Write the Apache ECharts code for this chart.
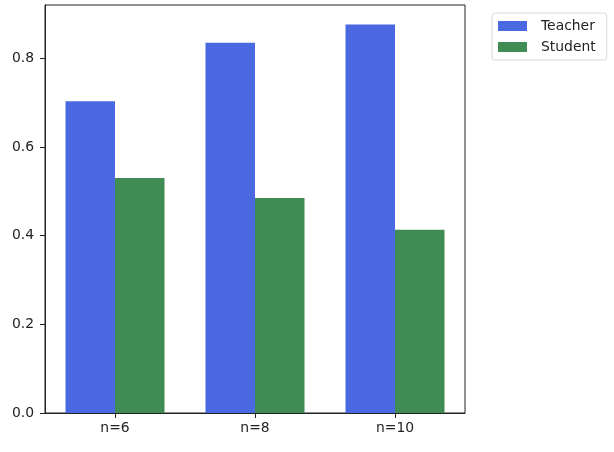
<!DOCTYPE html>
<html><head><meta charset="utf-8">
<script src="https://cdn.jsdelivr.net/npm/echarts@6/dist/echarts.min.js"></script>
<style>html,body{margin:0;padding:0;background:#fff}#c{width:614px;height:452px}</style>
</head><body><div id="c"></div>
<script>
const categories = ['n=6', 'n=8', 'n=10'];
const teacher = [0.703, 0.835, 0.876];
const student = [0.530, 0.485, 0.413];
const yTicks = [0, 0.2, 0.4, 0.6, 0.8];

const chart = echarts.init(document.getElementById('c'), null, {renderer: 'canvas'});
const font = 'DejaVu Sans';
chart.setOption({
  animation: false,
  backgroundColor: '#fff',
  grid: {left: 45, top: 5, right: 149, bottom: 39, show: true, borderColor: '#222', borderWidth: 1, backgroundColor: 'transparent'},
  legend: {
    orient: 'vertical', left: 492, top: 13,
    padding: [6, 11, 6, 6],
    itemWidth: 29, itemHeight: 10, itemGap: 7,
    borderColor: '#d8d8d8', borderWidth: 1, borderRadius: 3,
    icon: 'rect',
    textStyle: {fontFamily: font, fontSize: 13.9, color: '#222', padding: [0, 0, 0, 9]},
    data: ['Teacher', 'Student']
  },
  xAxis: {
    type: 'category', data: categories,
    axisLine: {show: true, lineStyle: {color: '#222', width: 1}},
    axisTick: {show: true, alignWithLabel: true, length: 5, lineStyle: {color: '#222'}},
    axisLabel: {fontFamily: font, fontSize: 13.9, color: '#222', margin: 8},
    splitLine: {show: false}
  },
  yAxis: {
    type: 'value', min: 0, max: 0.92,
    axisLine: {show: true, lineStyle: {color: '#222', width: 1}},
    axisTick: {show: true, length: 5, lineStyle: {color: '#222'}, customValues: yTicks},
    axisLabel: {fontFamily: font, fontSize: 13.9, color: '#222', margin: 11, customValues: yTicks,
      formatter: v => v.toFixed(1)},
    splitLine: {show: false}
  },
  series: [
    {name: 'Teacher', type: 'bar', data: teacher, barWidth: 49.5, barGap: '0%', itemStyle: {color: '#4A69E1'}},
    {name: 'Student', type: 'bar', data: student, barWidth: 49.5, barGap: '0%', itemStyle: {color: '#418B55'}}
  ]
});
</script></body></html>
